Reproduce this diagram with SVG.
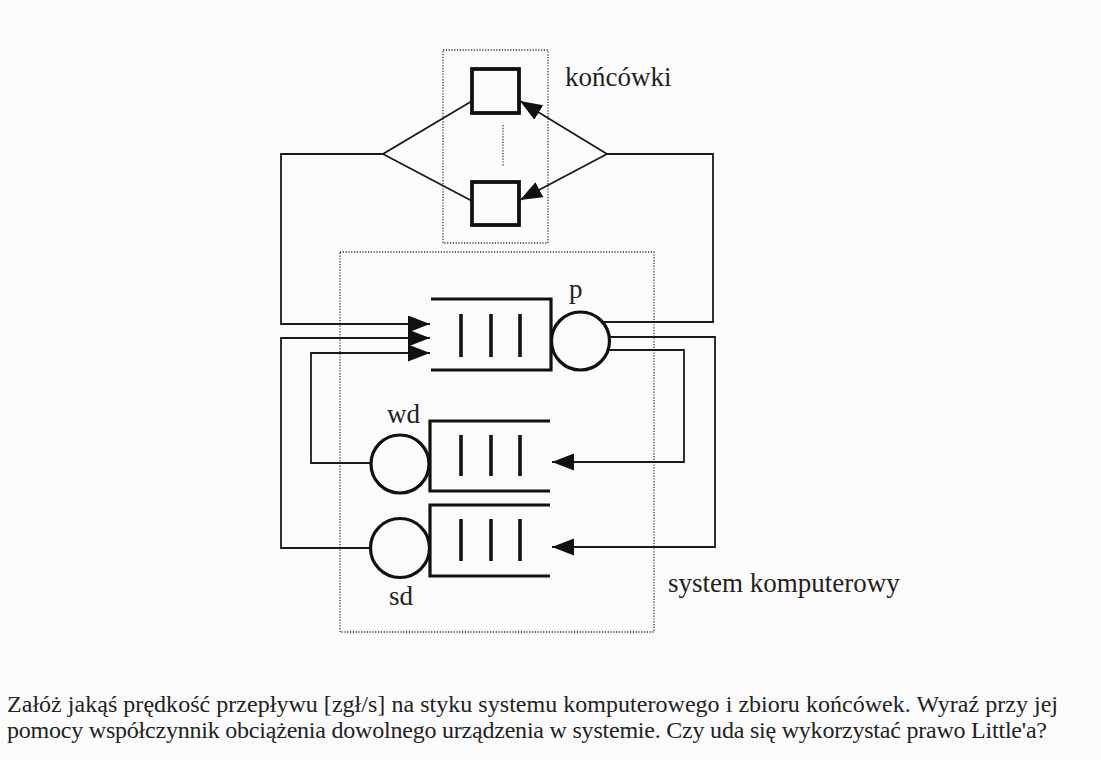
<svg xmlns="http://www.w3.org/2000/svg" width="1101" height="760" viewBox="0 0 1101 760">
<style>
.bg{fill:#fbfbfb}
.dot{fill:none;stroke:#333;stroke-width:1.3;stroke-dasharray:1.2 1.6}
.wire{fill:none;stroke:#1a1a1a;stroke-width:1.8}
.q{fill:none;stroke:#111;stroke-width:3.2}
.bar{stroke:#111;stroke-width:3.6}
.srv{fill:#fbfbfb;stroke:#111;stroke-width:3.2}
.term{fill:#fbfbfb;stroke:#111;stroke-width:3.8}
.lbl{font-family:"Liberation Serif","Times New Roman",serif;font-size:27px;fill:#222}
.txt{font-family:"Liberation Serif","Times New Roman",serif;font-size:24px;fill:#222}
</style>
<defs>
<marker id="ah" markerUnits="userSpaceOnUse" markerWidth="24" markerHeight="18" refX="22" refY="8.5" orient="auto">
<path d="M0,0 L22,8.5 L0,17 z" fill="#111"/>
</marker>
</defs>
<rect class="bg" x="0" y="0" width="1101" height="760"/>

<g id="boundaries">
<rect id="terminals-box" class="dot" x="443" y="50" width="105" height="193"/>
<rect id="system-box" class="dot" x="340" y="252" width="314" height="380"/>
</g>

<g id="connectors">
<polyline class="wire" points="472,101 383,154 472,201"/>
<polyline class="wire" points="383,154 281,154 281,324 430,324" marker-end="url(#ah)"/>
<polyline class="wire" points="602,322 713,322 713,154 607,154"/>
<line class="wire" x1="607" y1="154" x2="520" y2="101" marker-end="url(#ah)"/>
<line class="wire" x1="607" y1="154" x2="520" y2="200" marker-end="url(#ah)"/>
<polyline class="wire" points="609,337 715,337 715,547 552,547" marker-end="url(#ah)"/>
<polyline class="wire" points="607,350 684,350 684,462 552,462" marker-end="url(#ah)"/>
<polyline class="wire" points="371,463 311,463 311,353 430,353" marker-end="url(#ah)"/>
<polyline class="wire" points="371,548 281,548 281,338 430,338" marker-end="url(#ah)"/>
</g>

<g id="terminals">
<rect class="term" x="472" y="69" width="47" height="44"/>
<rect class="term" x="472" y="182" width="47" height="43"/>
<line class="dot" x1="503" y1="125" x2="503" y2="167"/>
<text class="lbl" x="565" y="86">końcówki</text>
</g>

<g id="p">
<path class="q" d="M431,299 H551 V370 H431"/>
<line class="bar" x1="461" y1="314" x2="461" y2="357"/>
<line class="bar" x1="491" y1="314" x2="491" y2="357"/>
<line class="bar" x1="520" y1="314" x2="520" y2="357"/>
<circle class="srv" cx="580.5" cy="341" r="29"/>
<text class="lbl" x="569" y="298">p</text>
</g>

<g id="wd">
<path class="q" d="M550,421 H430 V491 H550"/>
<line class="bar" x1="461" y1="435" x2="461" y2="476"/>
<line class="bar" x1="491" y1="435" x2="491" y2="476"/>
<line class="bar" x1="520" y1="435" x2="520" y2="476"/>
<circle class="srv" cx="400" cy="464" r="29"/>
<text class="lbl" x="387" y="423">wd</text>
</g>

<g id="sd">
<path class="q" d="M550,505 H430 V576 H550"/>
<line class="bar" x1="461" y1="519" x2="461" y2="561"/>
<line class="bar" x1="491" y1="519" x2="491" y2="561"/>
<line class="bar" x1="520" y1="519" x2="520" y2="561"/>
<circle class="srv" cx="400" cy="548" r="29.5"/>
<text class="lbl" x="389" y="605">sd</text>
</g>

<text id="system-label" class="lbl" x="668" y="592">system komputerowy</text>

<g id="caption">
<text class="txt" x="7" y="712" textLength="1051" lengthAdjust="spacing">Załóż jakąś prędkość przepływu [zgł/s] na styku systemu komputerowego i zbioru końcówek. Wyraź przy jej</text>
<text class="txt" x="7" y="738" textLength="1040" lengthAdjust="spacing">pomocy współczynnik obciążenia dowolnego urządzenia w systemie. Czy uda się wykorzystać prawo Little'a?</text>
</g>
</svg>
